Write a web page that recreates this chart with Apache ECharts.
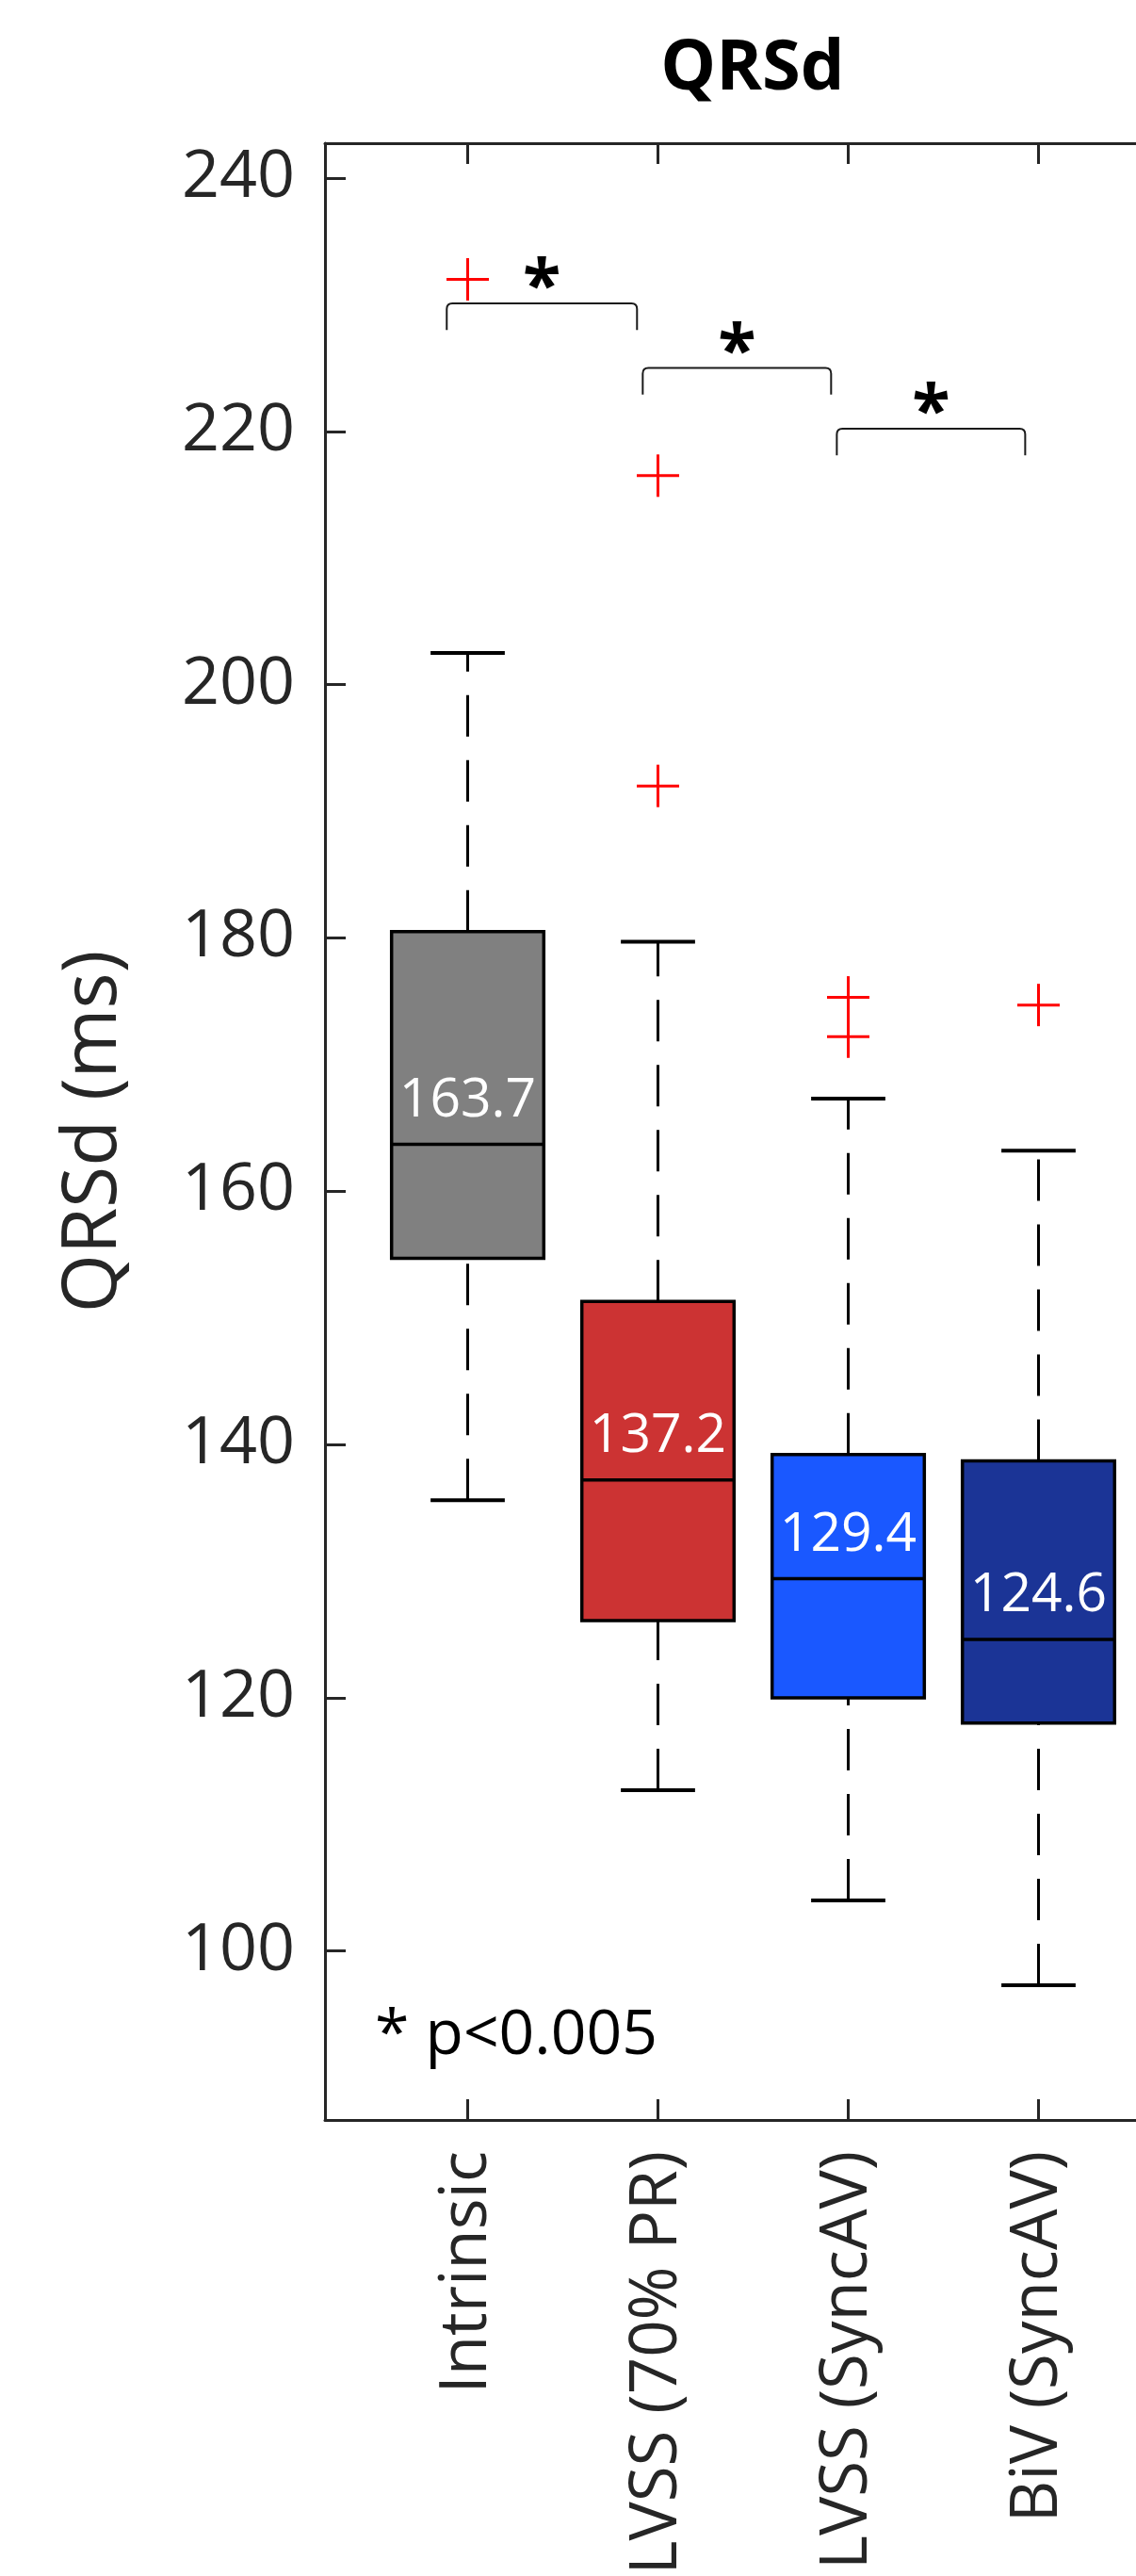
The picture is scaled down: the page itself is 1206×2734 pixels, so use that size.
<!DOCTYPE html>
<html>
<head>
<meta charset="utf-8">
<script src="https://cdn.jsdelivr.net/npm/echarts@6/dist/echarts.min.js"></script>
<style>
  html, body { margin: 0; padding: 0; background: #ffffff; }
  #chart { width: 1206px; height: 2734px; }
</style>
</head>
<body>
<div id="chart"></div>
<script>
// QRS duration per pacing mode (ms): box-plot statistics
const categories = ['Intrinsic', 'LVSS (70% PR)', 'LVSS (SyncAV)', 'BiV (SyncAV)'];
const lowerWhisker = [135.6, 112.7, 104.0, 97.3];
const lowerQuartile = [154.7, 126.1, 120.0, 118.0];
const medians = [163.7, 137.2, 129.4, 124.6];
const upperQuartile = [180.5, 151.3, 139.2, 138.7];
const upperWhisker = [202.5, 179.7, 167.3, 163.2];

// outliers: group index and value
const outlierGroup = [0, 1, 1, 2, 2, 3];
const outlierValue = [232.0, 216.5, 192.0, 175.3, 172.2, 174.7];

const boxColors = ['#808080', '#CC3333', '#1A58FF', '#1B3496'];
const yTicks = [100, 120, 140, 160, 180, 200, 220, 240];

// significance brackets (x from / x to in group units, level in ms)
const bracketFrom = [0.89, 1.92, 2.94];
const bracketTo = [1.89, 2.91, 3.93];
const bracketLevel = [230.1, 225.0, 220.2];

const FONT = '"Open Sans", "Noto Sans", sans-serif';
const AXIS_COLOR = '#262626';

const boxData = categories.map((c, i) => [
  i + 1, lowerWhisker[i], lowerQuartile[i], medians[i], upperQuartile[i], upperWhisker[i]
]);
const outlierData = outlierValue.map((v, k) => [outlierGroup[k] + 1, v]);
const bracketData = bracketFrom.map((f, k) => [f, bracketLevel[k], bracketTo[k]]);

function renderBox(params, api) {
  const i = params.dataIndex;
  const x = api.value(0);
  const yLow = api.coord([x, api.value(1)])[1];
  const yQ1 = api.coord([x, api.value(2)])[1];
  const pMed = api.coord([x, api.value(3)]);
  const yQ3 = api.coord([x, api.value(4)])[1];
  const yHigh = api.coord([x, api.value(5)])[1];
  const cx = pMed[0];
  const half = api.size([0.4, 0])[0];
  const cap = api.size([0.195, 0])[0];
  const dashStyle = { stroke: '#000', lineWidth: 3, lineDash: [44, 25], fill: null };
  const solid = { stroke: '#000', lineWidth: 4, fill: null };
  return {
    type: 'group',
    children: [
      // whiskers drawn upward so the dash pattern starts at the lower end
      { type: 'line', shape: { x1: cx, y1: yLow, x2: cx, y2: yQ1 }, style: dashStyle },
      { type: 'line', shape: { x1: cx, y1: yQ3, x2: cx, y2: yHigh }, style: dashStyle },
      { type: 'line', shape: { x1: cx - cap, y1: yLow, x2: cx + cap, y2: yLow }, style: solid },
      { type: 'line', shape: { x1: cx - cap, y1: yHigh, x2: cx + cap, y2: yHigh }, style: solid },
      {
        type: 'rect',
        shape: { x: cx - half, y: yQ3, width: 2 * half, height: yQ1 - yQ3 },
        style: { fill: boxColors[i], stroke: '#000', lineWidth: 3.5 }
      },
      {
        type: 'line',
        shape: { x1: cx - half, y1: pMed[1], x2: cx + half, y2: pMed[1] },
        style: { stroke: '#000', lineWidth: 3.5 }
      },
      {
        type: 'text',
        x: cx,
        y: pMed[1] - 46,
        style: {
          text: medians[i].toFixed(1),
          fill: '#ffffff',
          fontSize: 57,
          fontFamily: FONT,
          align: 'center',
          verticalAlign: 'middle'
        }
      }
    ]
  };
}

function renderOutlier(params, api) {
  const p = api.coord([api.value(0), api.value(1)]);
  const r = 22.5;
  const st = { stroke: '#FF0000', lineWidth: 3 };
  return {
    type: 'group',
    children: [
      { type: 'line', shape: { x1: p[0] - r, y1: p[1], x2: p[0] + r, y2: p[1] }, style: st },
      { type: 'line', shape: { x1: p[0], y1: p[1] - r, x2: p[0], y2: p[1] + r }, style: st }
    ]
  };
}

function renderBracket(params, api) {
  const level = api.value(1);
  const a = api.coord([api.value(0), level]);
  const b = api.coord([api.value(2), level]);
  const yLeg = api.coord([api.value(0), level - 2.1])[1];
  const yt = a[1];
  const r = 6;
  const path = 'M' + a[0] + ',' + yLeg +
    ' L' + a[0] + ',' + (yt + r) +
    ' Q' + a[0] + ',' + yt + ' ' + (a[0] + r) + ',' + yt +
    ' L' + (b[0] - r) + ',' + yt +
    ' Q' + b[0] + ',' + yt + ' ' + b[0] + ',' + (yt + r) +
    ' L' + b[0] + ',' + yLeg;
  return {
    type: 'group',
    children: [
      {
        type: 'path',
        shape: { pathData: path },
        style: { fill: null, stroke: '#1a1a1a', lineWidth: 2 }
      },
      {
        type: 'text',
        x: (a[0] + b[0]) / 2,
        y: yt - 15,
        style: {
          text: '*',
          fill: '#000',
          fontSize: 74,
          fontWeight: 'bold',
          fontFamily: FONT,
          align: 'center',
          verticalAlign: 'middle'
        }
      }
    ]
  };
}

const chart = echarts.init(document.getElementById('chart'), null, { renderer: 'canvas' });

const option = {
  animation: false,
  backgroundColor: '#ffffff',
  textStyle: { fontFamily: FONT },
  title: {
    text: 'QRSd',
    left: 799,
    top: 37,
    padding: 0,
    textAlign: 'center',
    textStyle: { fontSize: 74, fontWeight: 'bold', color: '#000', fontFamily: FONT }
  },
  grid: {
    left: 345,
    right: -48,
    top: 152,
    bottom: 484,
    containLabel: false,
    outerBoundsMode: 'none'
  },
  xAxis: [
    {
      type: 'value',
      position: 'bottom',
      min: 0.25,
      max: 4.75,
      splitLine: { show: false },
      axisLine: { show: true, onZero: false, lineStyle: { color: AXIS_COLOR, width: 3 } },
      axisTick: {
        show: true, inside: true, length: 22, customValues: [1, 2, 3, 4],
        lineStyle: { color: AXIS_COLOR, width: 3 }
      },
      axisLabel: {
        show: true,
        customValues: [1, 2, 3, 4],
        formatter: (v) => categories[Math.round(v) - 1] || '',
        rotate: 90,
        margin: 33,
        fontSize: 69,
        color: AXIS_COLOR,
        fontFamily: FONT,
        padding: [0, 0, 16, 0]
      }
    },
    {
      type: 'value',
      position: 'top',
      min: 0.25,
      max: 4.75,
      splitLine: { show: false },
      axisLine: { show: true, onZero: false, lineStyle: { color: AXIS_COLOR, width: 3 } },
      axisTick: {
        show: true, inside: true, length: 22, customValues: [1, 2, 3, 4],
        lineStyle: { color: AXIS_COLOR, width: 3 }
      },
      axisLabel: { show: false }
    }
  ],
  yAxis: {
    type: 'value',
    min: 86.66,
    max: 242.75,
    splitLine: { show: false },
    axisLine: { show: true, onZero: false, lineStyle: { color: AXIS_COLOR, width: 3 } },
    axisTick: {
      show: true, inside: true, length: 22, customValues: yTicks,
      lineStyle: { color: AXIS_COLOR, width: 3 }
    },
    axisLabel: {
      show: true,
      customValues: yTicks,
      margin: 32,
      fontSize: 70,
      color: AXIS_COLOR,
      fontFamily: FONT,
      padding: [0, 0, 22, 0]
    },
    name: 'QRSd (ms)',
    nameLocation: 'middle',
    nameRotate: 90,
    nameGap: 205,
    nameMoveOverlap: false,
    nameTextStyle: { fontSize: 80, color: AXIS_COLOR, fontFamily: FONT }
  },
  graphic: [
    {
      type: 'text',
      x: 398,
      y: 2161,
      style: {
        text: '* p<0.005',
        fill: '#000',
        fontSize: 66,
        fontFamily: FONT,
        align: 'left',
        verticalAlign: 'middle'
      }
    }
  ],
  series: [
    {
      type: 'custom',
      name: 'QRSd',
      xAxisIndex: 0,
      yAxisIndex: 0,
      clip: false,
      renderItem: renderBox,
      data: boxData,
      z: 2
    },
    {
      type: 'custom',
      name: 'Outliers',
      xAxisIndex: 0,
      yAxisIndex: 0,
      clip: false,
      renderItem: renderOutlier,
      data: outlierData,
      z: 3
    },
    {
      type: 'custom',
      name: 'Significance',
      xAxisIndex: 0,
      yAxisIndex: 0,
      clip: false,
      renderItem: renderBracket,
      data: bracketData,
      z: 3
    }
  ]
};

chart.setOption(option);
</script>
</body>
</html>
